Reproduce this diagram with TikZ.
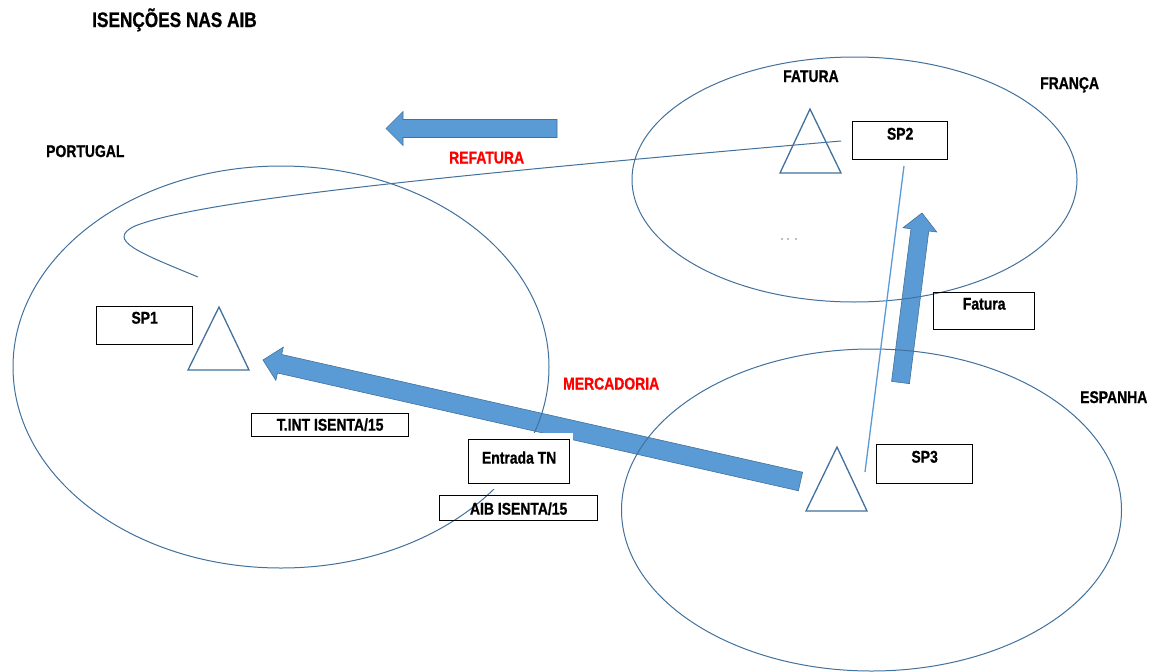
\documentclass[tikz,border=0pt]{standalone}
\usepackage{fontspec}
\setmainfont[FakeStretch=0.82, BoldFeatures={FakeBold=0.8}]{Liberation Sans}
\usetikzlibrary{calc}

\definecolor{edgeblue}{HTML}{41719C}
\definecolor{fillblue}{HTML}{5B9BD5}
\definecolor{labelred}{HTML}{FF0000}

\tikzset{
  region/.style={draw=edgeblue, line width=1pt},
  trader/.style={draw=edgeblue, line width=1.3pt, line join=miter},
  flowarrow/.style={fill=fillblue, draw=edgeblue, line width=0.6pt, line join=miter},
  tbox/.style={draw=black, line width=1.3pt, inner sep=0pt, anchor=north west,
               font=\bfseries\fontsize{17}{20}\selectfont},
  lbl/.style={anchor=base west, inner sep=0pt, font=\bfseries\fontsize{17}{20}\selectfont},
  redlbl/.style={lbl, text=labelred},
}

% block arrow from tail #1 to tip #2, half shaft width #3, half head width #4
\newcommand{\blockarr}[4]{%
  \coordinate (#1-base) at ($(#2)!17pt!(#1)$);
  \draw[flowarrow] ($(#1)!#3!90:(#2)$) -- ($(#1-base)!#3!90:(#2)$)
    -- ($(#1-base)!#4!90:(#2)$) -- (#2) -- ($(#1-base)!#4!-90:(#2)$)
    -- ($(#1-base)!#3!-90:(#2)$) -- ($(#1)!#3!-90:(#2)$) -- cycle;
}

\begin{document}
\begin{tikzpicture}[x=1pt, y=-1pt]
  \useasboundingbox (0,0) rectangle (1154,672);
  \fill[white] (0,0) rectangle (1154,672);

  % flows of goods and invoices
  \coordinate (refT) at (557,128.5);
  \coordinate (refH) at (386,128.5);
  \blockarr{refT}{refH}{9pt}{17pt}
  \coordinate (merT) at (800.5,481.5);
  \coordinate (merH) at (263,360);
  \blockarr{merT}{merH}{9.5pt}{17pt}
  \coordinate (fatT) at (900.5,382.5);
  \coordinate (fatH) at (922,213);
  \blockarr{fatT}{fatH}{9pt}{17pt}

  % countries
  \draw[region] (281,367) ellipse [x radius=268pt, y radius=201pt];
  \draw[region] (854.5,179.5) ellipse [x radius=222.5pt, y radius=122.5pt];
  \draw[region] (871.5,510) ellipse [x radius=250pt, y radius=161pt];

  % re-invoicing path
  \coordinate (c0) at (198,277);
  \coordinate (c1) at (135,226);
  \coordinate (c2) at (841,141);
  \draw[region] (c0) .. controls (140,253) and (105,240) .. (c1)
                .. controls (200,200) and (450,175) .. (c2);

  % link SP2 - SP3
  \coordinate (l0) at (904,166);
  \coordinate (l1) at (865,472);
  \draw[fillblue, line width=1.3pt] (l0) -- (l1);

  % traders
  \draw[trader] (219,307) -- (249,370) -- (188,370) -- cycle;
  \draw[trader] (810,109) -- (841,173) -- (780,173) -- cycle;
  \draw[trader] (837,447) -- (867,511) -- (806,511) -- cycle;

  % small marks
  \fill[gray] (782,239) circle (0.8pt) (788,239) circle (0.8pt) (796,239) circle (0.9pt);

  % text boxes
  \node[tbox, minimum width=96pt, text height=17pt, text depth=21pt] (sp1) at (96,306) {SP1};
  \node[tbox, minimum width=95pt, text height=18pt, text depth=20pt] (sp2) at (852,121) {SP2};
  \node[tbox, minimum width=96pt, text height=18pt, text depth=21pt] (sp3) at (876,444) {SP3};
  \node[tbox, minimum width=101pt, text height=17pt, text depth=20pt] (fat) at (933,292) {Fatura};
  \node[tbox, minimum width=157pt, text height=17pt, text depth=6pt] (tint) at (251,413) {T.INT ISENTA/15};
  \fill[white] (462,433) rectangle (573,489);
  \node[tbox, minimum width=101pt, text height=24pt, text depth=20pt] (ent) at (468,439) {Entrada TN};
  \node[tbox, minimum width=158pt, text height=19pt, text depth=6pt] (aib) at (439,495) {AIB ISENTA/15};

  % labels
  \node[lbl, font=\bfseries\fontsize{21}{24}\selectfont] (title) at (92,27) {ISENÇÕES NAS AIB};
  \node[lbl] (pt) at (46,157) {PORTUGAL};
  \node[lbl] (fr) at (1040,89) {FRANÇA};
  \node[lbl] (es) at (1080,403) {ESPANHA};
  \node[lbl] (fa) at (783,82) {FATURA};
  \node[redlbl] (rf) at (449,163.5) {REFATURA};
  \node[redlbl] (mc) at (563,389.5) {MERCADORIA};
\end{tikzpicture}
\end{document}
